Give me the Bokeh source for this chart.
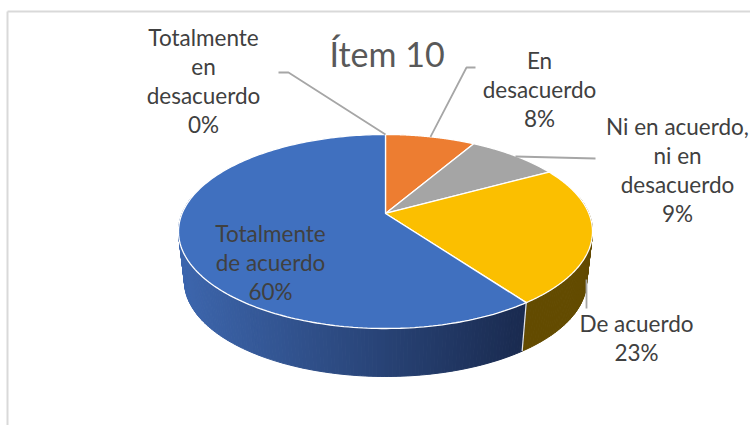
import numpy as np
from bokeh.models import Range1d
from bokeh.plotting import figure
from bokeh.core.properties import value
from bokeh.embed import file_html
from bokeh.resources import INLINE

title = "Ítem 10"
categories = ["Totalmente en desacuerdo", "En desacuerdo", "Ni en acuerdo, ni en desacuerdo", "De acuerdo", "Totalmente de acuerdo"]
shares = [0.0, 8.4, 8.6, 23.0, 60.0]
top_colors = ["#4472c4", "#ed7d31", "#a5a5a5", "#fbbf00", "#4070bf"]
side_colors = ["#264478", "#843c0c", "#636363", "#634b00", "#264478"]

FONT = "Lato"
TXT = "#404040"
W, H = 750, 425
p = figure(width=W, height=H, output_backend="svg", toolbar_location=None,
           x_range=Range1d(0, W), y_range=Range1d(H, 0), x_axis_type=None, y_axis_type=None,
           min_border=0, outline_line_color=None, background_fill_color="white")
p.grid.visible = False

TILT = 0.186

def rim(frac, cx=385.0, cy=231.0, rx=207.0, ry=97.0):
    a = 2 * np.pi * np.asarray(frac, dtype=float)
    u, v = np.sin(a), np.cos(a)
    d = 1 + TILT * v
    return cx + rx * np.sqrt(1 - TILT**2) * u / d, cy - ry * (v + TILT) / d

def rim_low(frac):
    return rim(frac, 385.0, 281.0, 201.0, 95.0)

apex = (385.0, 231.0 - 97.0 * TILT)
edges = np.cumsum([0.0] + shares) / 100.0

# frame
p.line([7, 7], [425, 11], line_color="#d9d9d9", line_width=2)
p.line([7, 750], [11, 11], line_color="#d9d9d9", line_width=2)

def lerp_hex(t):
    a, b = np.array([0x1a, 0x2b, 0x50]), np.array([0x3d, 0x66, 0xad])
    c = (a + (b - a) * t).astype(int)
    return "#%02x%02x%02x" % tuple(c)

for i, (s, e) in enumerate(zip(edges[:-1], edges[1:])):
    if e <= s:
        continue
    lo, hi = max(s, 0.22), min(e, 0.78)
    if hi <= lo:
        continue
    fr = np.linspace(lo, hi, max(2, int((hi - lo) * 400)))
    for f0, f1 in zip(fr[:-1], fr[1:]):
        x0, y0 = rim(f0); x1, y1 = rim(f1)
        x2, y2 = rim_low(f1); x3, y3 = rim_low(f0)
        if i == 4:
            t = np.clip((x0 - 180.0) / 345.0, 0, 1)
            col = lerp_hex(1 - t)
        else:
            col = side_colors[i]
        p.patch([x0, x1, x2, x3], [y0, y1, y2, y3], fill_color=col, line_color=col, line_width=1)
    if s > 0.22:
        p.line([rim(s)[0], rim_low(s)[0]], [rim(s)[1], rim_low(s)[1]], line_color="#e8e8e8", line_width=1.2)

for i, (s, e) in enumerate(zip(edges[:-1], edges[1:])):
    if e <= s:
        continue
    fr = np.linspace(s, e, 200)
    xs, ys = rim(fr)
    p.patch([apex[0], *xs], [apex[1], *ys], fill_color=top_colors[i], line_color="white", line_width=1.3)

lead_col = "#a6a6a6"
def leader(xs, ys):
    p.line(xs, ys, line_color=lead_col, line_width=1.8)
r0 = rim(edges[0])
leader([278, 288, r0[0]], [72, 72, r0[1]])
r1 = rim((edges[1] + edges[2]) / 2)
leader([475, 466, r1[0]], [67, 67, r1[1]])
leader([595, 515], [158, 156])
leader([586, 586], [279, 308])

def label(lines, x, y0, size="22.5px", color=TXT, step=29.3):
    ys = [y0 + k * step for k in range(len(lines))]
    p.text([x] * len(lines), ys, text=lines, text_font=value(FONT), text_font_size=size,
           text_color=color, text_align="center", text_baseline="middle")

pct = [f"{round(v)}%" for v in shares]
p.text([386.5], [53], text=[title], text_font=value(FONT), text_font_size="34px", text_color="#595959",
       text_align="center", text_baseline="middle")
label(["Totalmente", "en", "desacuerdo", pct[0]], 203, 36.5)
label(["En", "desacuerdo", pct[1]], 539, 59.5)
label(["Ni en acuerdo,", "ni en", "desacuerdo", pct[2]], 677, 125.5)
label(["De acuerdo", pct[3]], 636, 322.5)
label(["Totalmente", "de acuerdo", pct[4]], 270, 232.5)

open("out.html", "w").write(file_html(p, INLINE))
